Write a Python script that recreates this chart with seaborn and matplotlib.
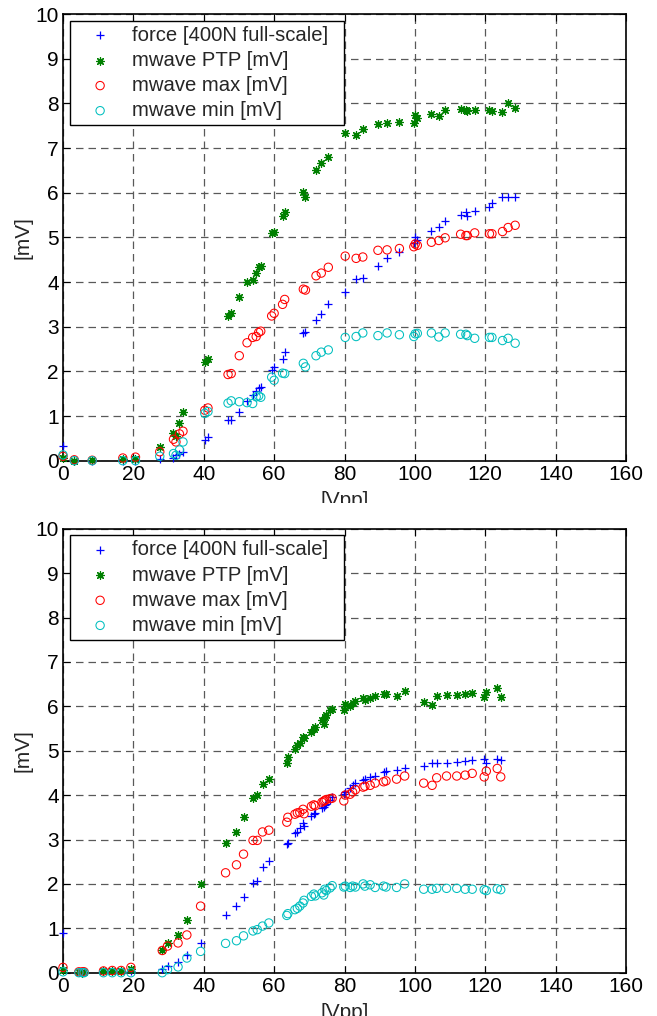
import numpy as np
import pandas as pd
import matplotlib
matplotlib.use("Agg")
import matplotlib.pyplot as plt
from matplotlib.patches import Rectangle
import seaborn as sns

# ---------------- data: top panel ----------------
top_x = [0, 3.2, 8.3, 17, 20.6, 27.5, 31.4, 32.1, 33.1, 34.1, 40.3, 41.2, 46.9, 47.8,
         50.1, 52.3, 53.9, 54.9, 55.6, 56.2, 59.3, 60.0, 62.4, 63.0, 68.3, 68.9, 71.9,
         73.4, 75.4, 80.2, 83.3, 85.2, 89.5, 92.1, 95.6, 99.7, 100.1, 100.7, 104.7,
         106.8, 108.6, 113.0, 114.5, 114.9, 117.0, 121.2, 121.9, 124.9, 126.5, 128.5]
top_force = [0.33, 0.0, 0.0, 0.0, 0.0, 0.03, 0.07, 0.13, 0.15, 0.2, 0.46, 0.52, 0.9, 0.9,
             1.1, 1.34, 1.46, 1.55, 1.63, 1.65, 2.02, 2.09, 2.28, 2.44, 2.85, 2.87, 3.16,
             3.28, 3.5, 3.78, 4.07, 4.09, 4.36, 4.54, 4.68, 4.87, 5.01, 4.93, 5.15,
             5.24, 5.36, 5.51, 5.57, 5.48, 5.6, 5.67, 5.76, 5.9, 5.9, 5.91]
top_ptp = [0.07, 0.0, 0.01, 0.04, 0.03, 0.3, 0.61, 0.55, 0.84, 1.08, 2.21, 2.28, 3.24, 3.3,
           3.66, 3.99, 4.04, 4.2, 4.33, 4.36, 5.1, 5.13, 5.48, 5.57, 6.02, 5.91, 6.51,
           6.66, 6.8, 7.34, 7.29, 7.43, 7.53, 7.57, 7.59, 7.56, 7.73, 7.68, 7.76,
           7.71, 7.85, 7.87, 7.86, 7.82, 7.85, 7.85, 7.82, 7.8, 8.0, 7.9]
top_max = [0.1, 0.02, 0.01, 0.06, 0.08, 0.2, 0.48, 0.42, 0.6, 0.66, 1.13, 1.18, 1.93, 1.95,
           2.35, 2.64, 2.76, 2.78, 2.87, 2.9, 3.24, 3.3, 3.5, 3.61, 3.84, 3.82, 4.14,
           4.2, 4.33, 4.58, 4.53, 4.56, 4.71, 4.72, 4.75, 4.79, 4.85, 4.82, 4.89,
           4.93, 4.99, 5.07, 5.04, 5.04, 5.1, 5.08, 5.08, 5.13, 5.22, 5.27]
top_min = [0.13, 0.0, 0.0, 0.0, 0.0, 0.1, 0.16, 0.12, 0.24, 0.42, 1.06, 1.1, 1.29, 1.34,
           1.32, 1.3, 1.28, 1.43, 1.45, 1.42, 1.87, 1.8, 1.96, 1.95, 2.18, 2.1, 2.35,
           2.43, 2.48, 2.76, 2.78, 2.86, 2.8, 2.86, 2.82, 2.78, 2.84, 2.85, 2.86,
           2.77, 2.86, 2.83, 2.83, 2.8, 2.74, 2.76, 2.76, 2.69, 2.74, 2.63]

# ---------------- data: bottom panel ----------------
bot_x = [0, 4.5, 5.5, 6.0, 11.5, 14.0, 16.5, 19.3, 28.2, 29.7, 32.7, 35.2, 39.1, 46.2,
         49.3, 51.3, 54.0, 55.2, 56.7, 58.5, 63.6, 63.9, 65.9, 66.6, 67.3, 68.2, 68.5,
         70.6, 71.3, 71.7, 73.6, 74.1, 74.4, 74.8, 75.9, 76.5, 79.8, 80.2, 81.6, 82.3,
         83.1, 85.3, 85.8, 87.3, 88.7, 91.1, 91.8, 94.8, 97.1, 102.5, 104.9, 106.2,
         109.0, 111.9, 114.3, 116.3, 119.7, 120.3, 123.4, 124.4]
bot_force = [0.9, 0.02, 0.02, 0.02, 0.03, 0.03, 0.03, 0.04, 0.08, 0.14, 0.25, 0.4, 0.67, 1.3,
             1.5, 1.7, 2.02, 2.07, 2.39, 2.51, 2.9, 2.93, 3.15, 3.17, 3.26, 3.37, 3.3,
             3.52, 3.58, 3.6, 3.7, 3.73, 3.77, 3.8, 3.9, 3.96, 4.03, 4.07, 4.16, 4.22,
             4.27, 4.35, 4.37, 4.4, 4.44, 4.52, 4.55, 4.57, 4.62, 4.65, 4.72, 4.72,
             4.73, 4.74, 4.76, 4.78, 4.82, 4.73, 4.82, 4.8]
bot_ptp = [0.07, 0.02, 0.0, 0.01, 0.04, 0.04, 0.04, 0.08, 0.51, 0.67, 0.84, 1.19, 1.99, 2.91,
           3.16, 3.5, 3.93, 4.0, 4.25, 4.37, 4.72, 4.85, 5.03, 5.13, 5.17, 5.3, 5.28,
           5.41, 5.5, 5.54, 5.69, 5.6, 5.77, 5.8, 5.91, 5.95, 5.91, 6.05, 6.0, 6.08,
           6.12, 6.19, 6.14, 6.19, 6.23, 6.27, 6.27, 6.23, 6.34, 6.1, 6.04, 6.23,
           6.26, 6.26, 6.28, 6.31, 6.22, 6.33, 6.41, 6.21]
bot_max = [0.12, 0.02, 0.02, 0.02, 0.04, 0.05, 0.05, 0.12, 0.5, 0.6, 0.67, 0.85, 1.5, 2.25,
           2.43, 2.67, 2.98, 2.98, 3.17, 3.21, 3.39, 3.5, 3.57, 3.6, 3.61, 3.68, 3.58,
           3.75, 3.78, 3.76, 3.84, 3.86, 3.88, 3.9, 3.92, 3.93, 3.87, 4.0, 4.02, 4.07,
           4.12, 4.18, 4.2, 4.22, 4.27, 4.3, 4.32, 4.36, 4.43, 4.27, 4.22, 4.39,
           4.43, 4.43, 4.45, 4.49, 4.41, 4.54, 4.6, 4.41]
bot_min = [0.02, 0.0, 0.0, 0.0, 0.0, 0.0, 0.0, 0.0, 0.0, 0.07, 0.13, 0.33, 0.48, 0.66,
           0.72, 0.83, 0.94, 0.97, 1.05, 1.12, 1.29, 1.33, 1.42, 1.45, 1.5, 1.57, 1.63,
           1.72, 1.77, 1.73, 1.8, 1.75, 1.88, 1.85, 1.91, 1.96, 1.93, 1.95, 1.92, 1.95,
           1.93, 2.0, 1.95, 1.98, 1.92, 1.95, 1.93, 1.92, 2.0, 1.88, 1.88, 1.9,
           1.9, 1.9, 1.88, 1.88, 1.87, 1.85, 1.89, 1.87]

labels = ["force [400N full-scale]", "mwave PTP [mV]", "mwave max [mV]", "mwave min [mV]"]
x_ticks = [0, 20, 40, 60, 80, 100, 120, 140, 160]
y_ticks = [0, 1, 2, 3, 4, 5, 6, 7, 8, 9, 10]
x_label = "[Vpp]"
y_label = "[mV]"

sns.set_theme(style="white")
plt.rcParams["font.family"] = ["Liberation Sans", "DejaVu Sans"]
plt.rcParams["axes.edgecolor"] = "black"
plt.rcParams["axes.linewidth"] = 1.0

W, H = 657, 1016
fig = plt.figure(figsize=(W / 100, H / 100), dpi=100)
fig.patch.set_facecolor("white")

def fpos(l, t, r, b):
    return [l / W, 1 - b / H, (r - l) / W, (b - t) / H]

ax_top = fig.add_axes(fpos(63, 14, 626, 460.7))
ax_bot = fig.add_axes(fpos(63, 528.7, 626, 972.7))

COL_F = (0, 0, 1)
COL_P = (0, 0.5, 0)
COL_MX = (1, 0, 0)
COL_MN = (0, 0.75, 0.75)
FS_TICK = 15
FS_LEG = 14.6

def panel(ax, x, force, ptp, mx, mn):
    df = pd.DataFrame({"x": x, "force": force, "ptp": ptp, "max": mx, "min": mn})
    sns.scatterplot(data=df, x="x", y="force", ax=ax, marker="+", s=36, color=COL_F,
                    linewidth=0.9, label=labels[0], zorder=3, clip_on=False)
    sns.scatterplot(data=df, x="x", y="ptp", ax=ax, marker=(8, 2, 0), s=30, color=COL_P,
                    linewidth=0.9, label=labels[1], zorder=3, clip_on=False)
    sns.scatterplot(data=df, x="x", y="max", ax=ax, marker="o", s=36, facecolor="none",
                    edgecolor=COL_MX, linewidth=0.75, label=labels[2], zorder=3, clip_on=False)
    sns.scatterplot(data=df, x="x", y="min", ax=ax, marker="o", s=36, facecolor="none",
                    edgecolor=COL_MN, linewidth=0.75, label=labels[3], zorder=3, clip_on=False)
    ax.set_xlim(0, 160)
    ax.set_ylim(0, 10)
    ax.set_xticks(x_ticks)
    ax.set_yticks(y_ticks)
    ax.set_xticklabels([str(v) for v in x_ticks], fontsize=FS_TICK)
    ax.set_yticklabels([str(v) for v in y_ticks], fontsize=FS_TICK)
    ax.tick_params(direction="in", length=5, width=0.8, top=True, right=True,
                   bottom=True, left=True, pad=3, colors="black")
    ax.grid(True, color="0.35", linestyle=(0, (6, 4)), linewidth=0.9)
    ax.set_axisbelow(True)
    for sp in ax.spines.values():
        sp.set_visible(True)
        sp.set_color("black")
        sp.set_linewidth(1.2)
    ax.set_xlabel(x_label, fontsize=FS_TICK, labelpad=5)
    ax.set_ylabel(y_label, fontsize=FS_TICK, labelpad=2)
    leg = ax.legend(loc="upper left", fontsize=FS_LEG, frameon=True, fancybox=False,
                    framealpha=1, edgecolor="black", scatterpoints=1,
                    borderaxespad=0.33, labelspacing=0.3, handlelength=2.5,
                    handletextpad=0.3, borderpad=0.25)
    leg.get_frame().set_linewidth(1.0)
    for t in leg.get_texts():
        t.set_text(t.get_text() + "  ")

panel(ax_top, top_x, top_force, top_ptp, top_max, top_min)
panel(ax_bot, bot_x, bot_force, bot_ptp, bot_max, bot_min)

# hide the lower part of the top panel's x label (as in the reference)
fig.add_artist(Rectangle((0, 1 - 514 / H), 1, 11 / H, transform=fig.transFigure,
                         facecolor="white", edgecolor="none", zorder=10))

fig.savefig("out.png", dpi=100, facecolor="white")
